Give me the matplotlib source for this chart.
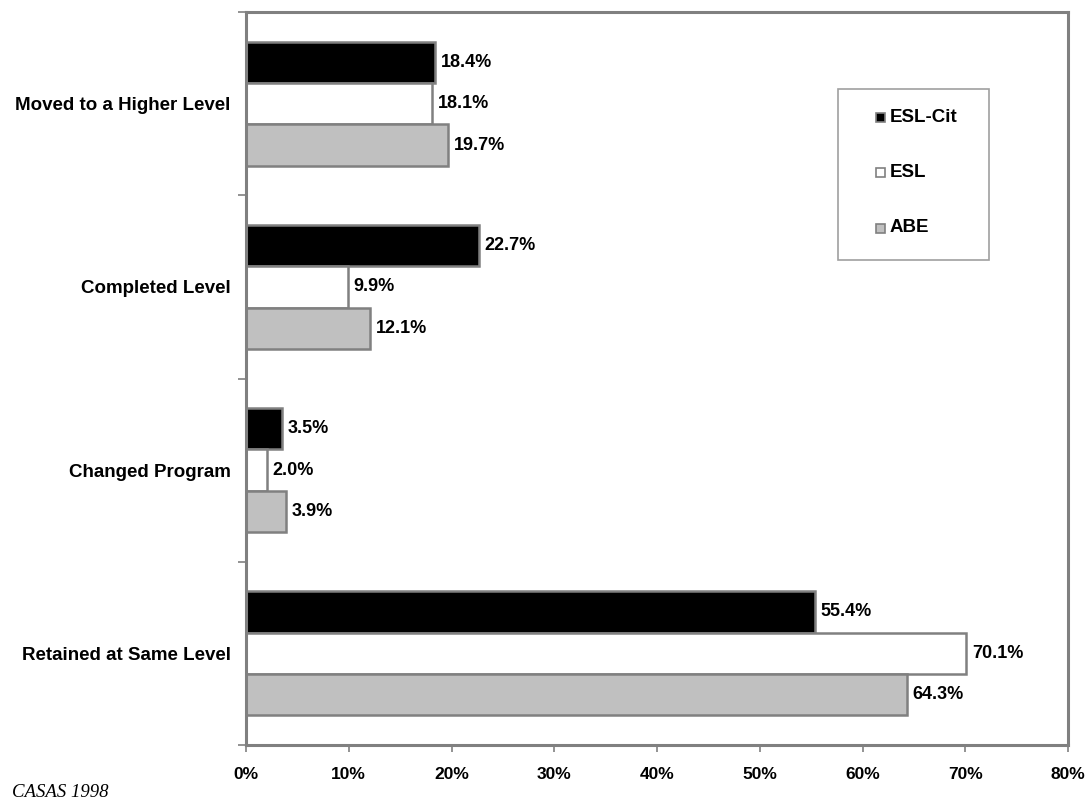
import matplotlib.pyplot as plt
import numpy as np
from matplotlib.patches import Rectangle

# outcome categories, top to bottom
categories = ['Moved to a Higher Level', 'Completed Level', 'Changed Program', 'Retained at Same Level']
esl_cit = [18.4, 22.7, 3.5, 55.4]
esl = [18.1, 9.9, 2.0, 70.1]
abe = [19.7, 12.1, 3.9, 64.3]
series_names = ['ESL-Cit', 'ESL', 'ABE']
x_ticks = [0, 10, 20, 30, 40, 50, 60, 70, 80]

plt.rcParams['font.family'] = ['Liberation Sans Narrow', 'Liberation Sans', 'DejaVu Sans']
plt.rcParams['font.weight'] = 'bold'

W, H = 1087, 800
fig = plt.figure(figsize=(W / 100, H / 100), dpi=100)
ax = fig.add_axes([246 / W, 1 - 745 / H, (1068 - 246) / W, (745 - 12) / H])

edge = '#808080'
h = 0.226
y = np.arange(len(categories))[::-1]
colors = ['black', 'white', '#c0c0c0']
offsets = [h, 0, -h]

for vals, col, off, name in zip([esl_cit, esl, abe], colors, offsets, series_names):
    bars = ax.barh(y + off, vals, height=h, color=col, edgecolor=edge, linewidth=1.8, label=name)
    for b, v in zip(bars, vals):
        ax.annotate(f'{v:.1f}%', (v, b.get_y() + h / 2), xytext=(4, 0), textcoords='offset points',
                    va='center', ha='left', fontsize=13, fontweight='bold')

ax.set_xlim(0, 80)
ax.set_ylim(-0.5, len(categories) - 0.5)
ax.set_xticks(x_ticks)
ax.set_xticklabels([f'{t}%' for t in x_ticks], fontsize=12.5, fontweight='bold')
ax.set_yticks(y)
ax.set_yticklabels(categories, fontsize=13.5, fontweight='bold')
ax.tick_params(axis='y', length=0, pad=11)
ax.tick_params(axis='x', length=5, color=edge, pad=11, width=1.2, direction='out')

# category boundary ticks on the left
ax.set_yticks(np.arange(-0.5, len(categories), 1), minor=True)
ax.tick_params(axis='y', which='minor', length=6, color=edge, width=1.2)

for s in ax.spines.values():
    s.set_color(edge)
    s.set_linewidth(2.2)

# legend box drawn in pixel positions
tf = fig.transFigure
fig.patches.append(Rectangle((838 / W, 1 - 260 / H), (989 - 838) / W, (260 - 89) / H,
                             transform=tf, facecolor='white', edgecolor='#a0a0a0', linewidth=1.2, zorder=5))
for i, (name, col) in enumerate(zip(series_names, colors)):
    cy = 117 + i * 55.5
    fig.patches.append(Rectangle((876 / W, 1 - (cy + 4.5) / H), 9 / W, 9 / H, transform=tf,
                                 facecolor=col, edgecolor=edge, linewidth=1.2, zorder=6))
    fig.text(890 / W, 1 - cy / H, name, fontsize=13.5, fontweight='bold', va='center', ha='left', zorder=7)

fig.text(12 / W, 1 - 797 / H, 'CASAS 1998', fontsize=13.5, style='italic', fontweight='normal',
         family=['Liberation Serif', 'DejaVu Serif'], ha='left', va='baseline')

fig.savefig('out.png', dpi=100)
